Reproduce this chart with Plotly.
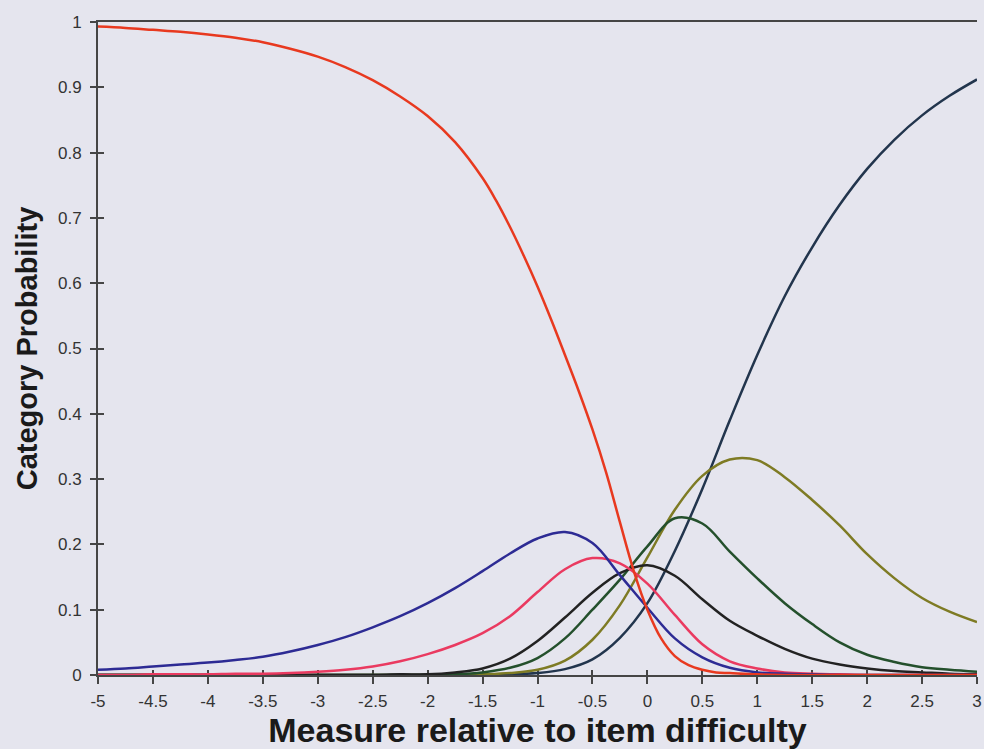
import plotly.graph_objects as go

# Measure grid (logits relative to item difficulty), step 0.25 from -5 to 3
measure = [-5, -4.75, -4.5, -4.25, -4, -3.75, -3.5, -3.25, -3, -2.75, -2.5, -2.25, -2, -1.75,
           -1.5, -1.25, -1, -0.75, -0.5, -0.25, 0, 0.25, 0.5, 0.75, 1, 1.25, 1.5, 1.75, 2,
           2.25, 2.5, 2.75, 3]

# Category 1 is steep in the middle, so it is read on a finer grid there
measure_cat1 = [-5, -4.75, -4.5, -4.25, -4, -3.75, -3.5, -3.25, -3, -2.75, -2.5, -2.25, -2,
                -1.75, -1.5, -1.375, -1.25, -1.125, -1, -0.875, -0.75, -0.625, -0.5, -0.375,
                -0.25, -0.125, 0, 0.125, 0.25, 0.375, 0.5, 0.625, 0.75, 1, 1.25, 1.5, 2, 2.5, 3]
cat1 = [0.993, 0.991, 0.988, 0.985, 0.981, 0.976, 0.969, 0.959, 0.947, 0.931, 0.911, 0.886,
        0.856, 0.816, 0.761, 0.726, 0.686, 0.642, 0.595, 0.544, 0.490, 0.435, 0.376, 0.310,
        0.234, 0.160, 0.100, 0.056, 0.029, 0.015, 0.008, 0.004, 0.003, 0.001, 0, 0, 0, 0, 0]

cat2 = [0.008, 0.010, 0.013, 0.016, 0.019, 0.023, 0.028, 0.036, 0.046, 0.058, 0.073, 0.090,
        0.110, 0.133, 0.159, 0.186, 0.209, 0.219, 0.202, 0.153, 0.103, 0.056, 0.027, 0.011,
        0.004, 0.002, 0.001, 0, 0, 0, 0, 0, 0]
cat3 = [0, 0, 0.001, 0.001, 0.001, 0.002, 0.002, 0.003, 0.005, 0.008, 0.013, 0.021, 0.032,
        0.046, 0.064, 0.090, 0.127, 0.162, 0.179, 0.171, 0.140, 0.092, 0.047, 0.021, 0.010,
        0.004, 0.002, 0.001, 0, 0, 0, 0, 0]
cat4 = [0, 0, 0, 0, 0, 0, 0, 0, 0, 0, 0, 0.001, 0.001, 0.004, 0.010, 0.025, 0.052, 0.088,
        0.126, 0.156, 0.168, 0.152, 0.116, 0.083, 0.060, 0.040, 0.025, 0.016, 0.010, 0.006,
        0.004, 0.002, 0.001]
cat5 = [0, 0, 0, 0, 0, 0, 0, 0, 0, 0, 0, 0, 0, 0.001, 0.004, 0.011, 0.026, 0.056, 0.100,
        0.146, 0.197, 0.240, 0.232, 0.189, 0.148, 0.110, 0.078, 0.050, 0.031, 0.020, 0.012,
        0.008, 0.005]
cat6 = [0, 0, 0, 0, 0, 0, 0, 0, 0, 0, 0, 0, 0, 0, 0.001, 0.003, 0.008, 0.022, 0.054, 0.107,
        0.180, 0.253, 0.305, 0.330, 0.329, 0.303, 0.268, 0.229, 0.185, 0.148, 0.118, 0.097,
        0.081]
cat7 = [0, 0, 0, 0, 0, 0, 0, 0, 0, 0, 0, 0, 0, 0, 0, 0.001, 0.003, 0.009, 0.024, 0.057, 0.110,
        0.190, 0.285, 0.390, 0.490, 0.580, 0.655, 0.720, 0.775, 0.820, 0.857, 0.887, 0.912]

x_tickvals = [-5, -4.5, -4, -3.5, -3, -2.5, -2, -1.5, -1, -0.5, 0, 0.5, 1, 1.5, 2, 2.5, 3]
x_ticktext = ["-5", "-4.5", "-4", "-3.5", "-3", "-2.5", "-2", "-1.5", "-1", "-0.5", "0", "0.5",
              "1", "1.5", "2", "2.5", "3"]
y_tickvals = [0, 0.1, 0.2, 0.3, 0.4, 0.5, 0.6, 0.7, 0.8, 0.9, 1]
y_ticktext = ["0", "0.1", "0.2", "0.3", "0.4", "0.5", "0.6", "0.7", "0.8", "0.9", "1"]

series = [
    (measure, cat7, "#22354d"),
    (measure, cat6, "#7e7b24"),
    (measure, cat5, "#24502c"),
    (measure, cat4, "#222222"),
    (measure, cat3, "#ea3a60"),
    (measure, cat2, "#2d2b94"),
    (measure_cat1, cat1, "#e8391f"),
]

BG = "#e5e5ee"
AX = "#454545"
FONT = "Liberation Sans, Arial, sans-serif"

fig = go.Figure()
for xs, vals, col in series:
    fig.add_trace(go.Scatter(x=xs, y=vals, mode="lines",
                             line=dict(color=col, width=2.5, shape="spline", smoothing=1.0),
                             showlegend=False, hoverinfo="skip"))
# invisible trace to host the overlay axes (inner tick halves)
fig.add_trace(go.Scatter(x=[None], y=[None], xaxis="x2", yaxis="y2", showlegend=False,
                         hoverinfo="skip"))

fig.update_layout(
    width=984, height=749,
    margin=dict(l=98, r=7, t=22, b=74, autoexpand=False),
    paper_bgcolor=BG, plot_bgcolor=BG,
    font=dict(family=FONT, color="#333333"),
    xaxis=dict(range=[-5, 3], tickvals=x_tickvals, ticktext=x_ticktext,
               showgrid=False, zeroline=False, showline=True, linecolor=AX, linewidth=2,
               mirror=True, ticks="outside", ticklen=7, tickwidth=1.5, tickcolor=AX,
               tickfont=dict(size=17, color="#333333"), layer="below traces",
               ticklabeloverflow="allow", ticklabelstandoff=3, automargin=False,
               title=dict(text="<b>Measure relative to item difficulty</b>",
                          font=dict(size=34, color="#1a1a1a"), standoff=4)),
    yaxis=dict(range=[0, 1], tickvals=y_tickvals, ticktext=y_ticktext,
               showgrid=False, zeroline=False, showline=True, linecolor=AX, linewidth=2,
               ticks="outside", ticklen=6, tickwidth=1.5, tickcolor=AX,
               tickfont=dict(size=17, color="#333333"), layer="below traces",
               ticklabelstandoff=5, automargin=False,
               title=dict(text="<b>Category Probability</b>",
                          font=dict(size=29, color="#1a1a1a"), standoff=12)),
    xaxis2=dict(range=[-5, 3], tickvals=x_tickvals, overlaying="x", anchor="y2",
                showticklabels=False, showgrid=False, zeroline=False, showline=False,
                ticks="inside", ticklen=5, tickwidth=1.5, tickcolor=AX, layer="below traces"),
    yaxis2=dict(range=[0, 1], tickvals=y_tickvals, overlaying="y", anchor="x2",
                showticklabels=False, showgrid=False, zeroline=False, showline=False,
                ticks="inside", ticklen=6, tickwidth=1.5, tickcolor=AX, layer="below traces"),
)

fig.write_html("out.html")
